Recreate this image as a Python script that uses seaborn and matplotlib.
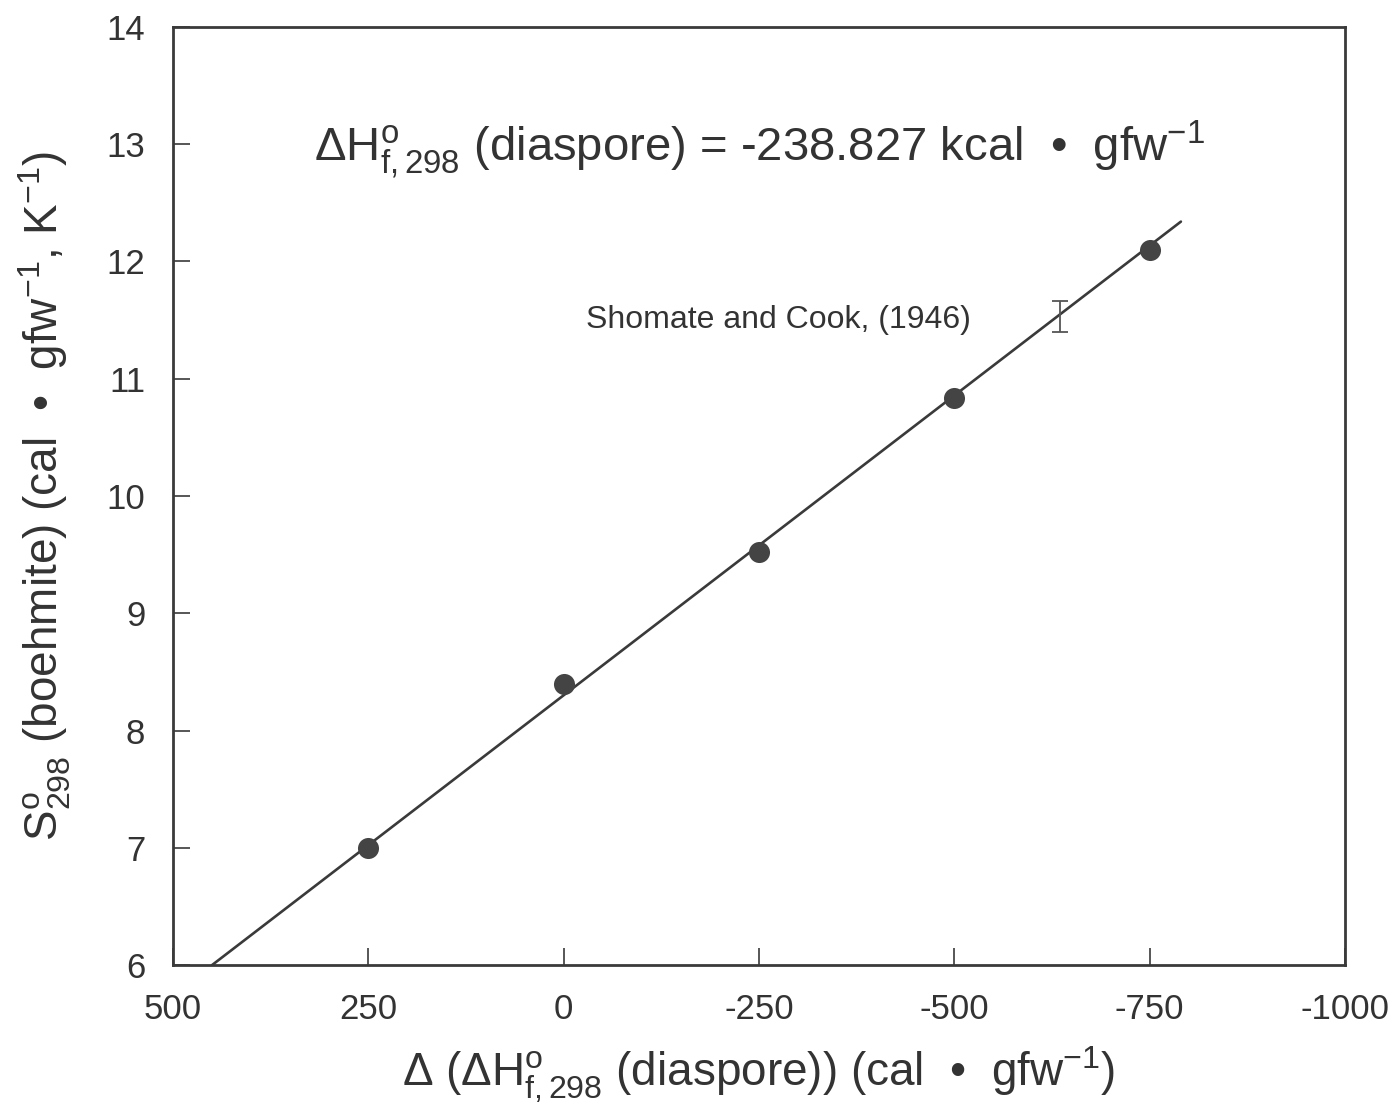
import matplotlib
matplotlib.use("Agg")
import matplotlib.pyplot as plt
import seaborn as sns
import pandas as pd

# ---- data ----
dH_points = [250, 0, -250, -500, -750]
S_points = [7.0, 8.40, 9.52, 10.84, 12.10]
fit_x = [450, -790]
fit_y = [6.0, 12.34]
err_x = [-635]
err_y = [11.53]
err_val = [0.13]
x_ticks = [500, 250, 0, -250, -500, -750, -1000]
x_tick_labels = ["500", "250", "0", "-250", "-500", "-750", "-1000"]
y_ticks = [6, 7, 8, 9, 10, 11, 12, 13, 14]
y_tick_labels = [str(v) for v in y_ticks]

sns.set_theme(style="white")
narrow = ["Liberation Sans Narrow", "Liberation Sans", "DejaVu Sans"]
plt.rcParams["font.family"] = narrow
plt.rcParams["mathtext.fontset"] = "custom"
plt.rcParams["mathtext.rm"] = "Liberation Sans"
plt.rcParams["mathtext.it"] = "Liberation Sans"
plt.rcParams["mathtext.bf"] = "Liberation Sans"
plt.rcParams["axes.unicode_minus"] = False

ink = "#3a3a3a"

fig = plt.figure(figsize=(14, 11.19), dpi=100)
ax = fig.add_axes([0.1236, 0.1376, 0.9607 - 0.1236, 0.9759 - 0.1376])

pts = pd.DataFrame({"x": dH_points, "y": S_points})
fit = pd.DataFrame({"x": fit_x, "y": fit_y})

sns.lineplot(data=fit, x="x", y="y", ax=ax, color=ink, linewidth=1.9)
sns.scatterplot(data=pts, x="x", y="y", ax=ax, color="#444444", s=230,
                edgecolor="#444444", linewidth=0, zorder=3)
ax.errorbar(err_x, err_y, yerr=err_val, fmt="none", ecolor="#555555",
            elinewidth=1.3, capsize=6, capthick=1.3)

ax.set_xlim(500, -1000)
ax.set_ylim(6, 14)
ax.set_xticks(x_ticks)
ax.set_xticklabels(x_tick_labels)
ax.set_yticks(y_ticks)
ax.set_yticklabels(y_tick_labels)
ax.tick_params(axis="both", direction="in", length=12, width=1.2,
               colors=ink, labelsize=25, labelcolor="#333333")
ax.tick_params(axis="x", pad=20)
ax.tick_params(axis="y", pad=20)
ax.tick_params(bottom=True, left=True, top=False, right=False)

for sp in ax.spines.values():
    sp.set_visible(True)
    sp.set_color(ink)
    sp.set_linewidth(2.0)

ax.set_xlabel(r"Δ (ΔH$^{\mathrm{o}}_{\mathrm{f,298}}$ (diaspore)) (cal  •  gfw$^{\mathrm{-1}}$)",
              fontsize=33, color="#333333", labelpad=14)
ax.set_ylabel(r"S$^{\mathrm{o}}_{\mathrm{298}}$ (boehmite) (cal  •  gfw$^{\mathrm{-1}}$, K$^{\mathrm{-1}}$)",
              fontsize=33, color="#333333", labelpad=24)

ax.text(0.5, 0.869,
        r"ΔH$^{\mathrm{o}}_{\mathrm{f,298}}$ (diaspore) = -238.827 kcal  •  gfw$^{\mathrm{-1}}$",
        transform=ax.transAxes, ha="center", va="center", fontsize=34, color="#333333")
ax.text(0.352, 0.688, "Shomate and Cook, (1946)", transform=ax.transAxes,
        ha="left", va="center", fontsize=23, color="#333333",
        family=["Liberation Sans", "DejaVu Sans"])

fig.savefig("out.png", dpi=100)
